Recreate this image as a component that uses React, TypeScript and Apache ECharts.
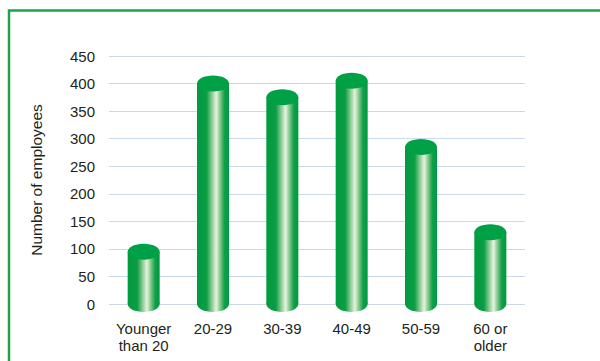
import React, { useEffect, useRef } from "react";
import * as echarts from "echarts";

const categories = ["Younger\nthan 20", "20-29", "30-39", "40-49", "50-59", "60 or\nolder"];
const employees = [95, 400, 375, 405, 285, 130];
const yTicks = { min: 0, max: 450, interval: 50 };
const yAxisTitle = "Number of employees";

const FONT = "'Liberation Sans', Arial, Helvetica, sans-serif";

export default function App() {
  const ref = useRef<HTMLDivElement>(null);
  useEffect(() => {
    if (!ref.current) return;
    const chart = echarts.init(ref.current, undefined, { renderer: "svg" });
    const bodyGrad = () =>
      new echarts.graphic.LinearGradient(0, 0, 1, 0, [
        { offset: 0, color: "#009a3f" },
        { offset: 0.3, color: "#0c9d45" },
        { offset: 0.47, color: "#8fcd95" },
        { offset: 0.6, color: "#e6f3df" },
        { offset: 0.72, color: "#86c98c" },
        { offset: 0.86, color: "#0da04a" },
        { offset: 1, color: "#009a3f" },
      ]);
    const option: any = {
      animation: false,
      backgroundColor: "#ffffff",
      graphic: [
        {
          type: "rect",
          shape: { x: 9, y: 10.5, width: 800, height: 500 },
          style: { fill: "none", stroke: "#1fa24a", lineWidth: 2.5 },
          silent: true,
          z: 0,
        },
      ],
      grid: { left: 109, right: 75, top: 56, bottom: 57, containLabel: false, outerBoundsMode: "none" },
      xAxis: {
        type: "category",
        data: categories,
        axisLine: { show: false },
        axisTick: { show: false },
        axisLabel: { color: "#231f20", fontSize: 15, fontFamily: FONT, lineHeight: 17, margin: 16, interval: 0 },
      },
      yAxis: {
        type: "value",
        min: yTicks.min,
        max: yTicks.max,
        interval: yTicks.interval,
        name: yAxisTitle,
        nameLocation: "middle",
        nameGap: 65,
        nameRotate: 90,
        nameTextStyle: { color: "#231f20", fontSize: 15.5, fontFamily: FONT },
        axisLine: { show: false },
        axisTick: { show: false },
        axisLabel: { color: "#231f20", fontSize: 15, fontFamily: FONT, margin: 14 },
        splitLine: { lineStyle: { color: "#c9d9e7", width: 1 } },
      },
      series: [
        {
          type: "custom",
          data: employees.map((v, i) => [i, v]),
          encode: { x: 0, y: 1 },
          renderItem: (params: any, api: any) => {
            const idx = api.value(0);
            const top = api.coord([idx, api.value(1)]);
            const base = api.coord([idx, 0]);
            const rx = 16;
            const ry = 8;
            return {
              type: "group",
              children: [
                {
                  type: "ellipse",
                  shape: { cx: top[0], cy: base[1], rx, ry },
                  style: { fill: bodyGrad() },
                },
                {
                  type: "rect",
                  shape: { x: top[0] - rx, y: top[1], width: rx * 2, height: base[1] - top[1] },
                  style: { fill: bodyGrad() },
                },
                {
                  type: "ellipse",
                  shape: { cx: top[0], cy: top[1], rx, ry },
                  style: { fill: "#00a046" },
                },
              ],
            };
          },
        },
      ],
    };
    chart.setOption(option);
    return () => chart.dispose();
  }, []);
  return (
    <div
      ref={ref}
      style={{ position: "fixed", left: 0, top: 0, width: 600, height: 361, background: "#fff" }}
    />
  );
}
